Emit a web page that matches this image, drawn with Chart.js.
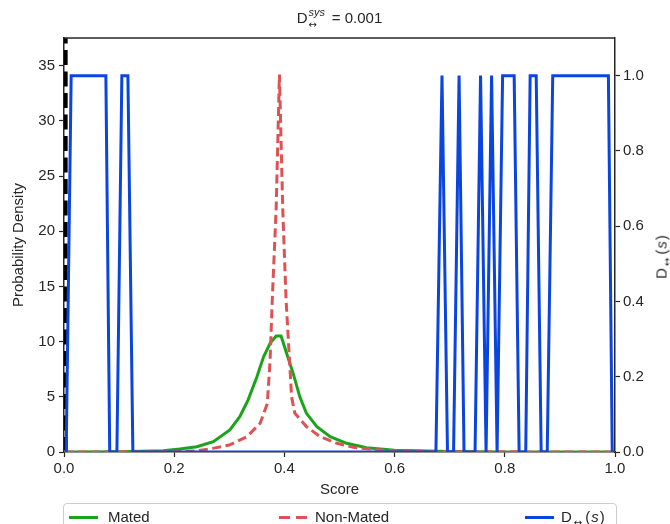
<!DOCTYPE html>
<html lang="en">
<head>
<meta charset="UTF-8">
<title>Score densities and D(s)</title>
<script src="https://cdn.jsdelivr.net/npm/chart.js"></script>
<style>
  body { margin: 0; background: #fff; }
  #wrap { position: relative; width: 670px; height: 524px; overflow: hidden;
          font-family: "Liberation Sans", Arial, sans-serif; color: #262626; }
  #chartCanvas { position: absolute; left: 0; top: 0; }
  #title { position: absolute; left: 64px; width: 551px; top: 9px; text-align: center; font-size: 15px; line-height: 18px; }
  .ss { display: inline-block; position: relative; width: 20px; height: 14px; }
  .ss .up { position: absolute; left: 1px; top: -6px; font-size: 11px; font-style: italic; }
  .ss .dn { position: absolute; left: 1px; top: 7px; font-size: 10px; font-family: "DejaVu Sans", sans-serif; }
  #rightTitle { position: absolute; left: 661px; top: 257px; font-size: 15px; white-space: nowrap; color: #262626;
                transform: translate(-50%, -50%) rotate(-90deg); }
  .arr { font-size: 10px; position: relative; top: 4px; margin: 0 3px 0 2px; font-family: "DejaVu Sans", sans-serif; }
  .ital { font-style: italic; margin: 0 1px; }
  #legend { position: absolute; left: 63px; top: 503px; width: 552px; height: 40px;
            border: 1px solid #cccccc; border-radius: 4px; font-size: 15px; }
  .item { position: absolute; top: 4px; white-space: nowrap; }
  .sw { position: absolute; top: 12px; height: 3px; width: 29px; }
</style>
</head>
<body>
<div id="wrap">
  <canvas id="chartCanvas" width="670" height="524"></canvas>
  <div id="title">D<span class="ss"><span class="up">sys</span><span class="dn">&#8596;</span></span> = 0.001</div>
  <div id="rightTitle">D<span class="arr">&#8596;</span>(<span class="ital">s</span>)</div>
  <div id="legend">
    <div class="sw" style="left:5px; background:#1ca31c;"></div>
    <div class="item" style="left:44px;">Mated</div>
    <div class="sw" style="left:215px; background:repeating-linear-gradient(90deg,#dd5353 0 11px,transparent 11px 17px);"></div>
    <div class="item" style="left:251px;">Non-Mated</div>
    <div class="sw" style="left:461px; background:#0b45e0;"></div>
    <div class="item" style="left:497px;">D<span class="arr">&#8596;</span>(<span class="ital">s</span>)</div>
  </div>
</div>
<script>
// Mated score density
const matedScore   = [0, 0.10, 0.18, 0.21, 0.241, 0.271, 0.301, 0.319, 0.334, 0.350, 0.362, 0.374, 0.385, 0.394, 0.404, 0.416, 0.428, 0.440, 0.459, 0.483, 0.513, 0.549, 0.60, 0.70, 0.80, 1.0];
const matedDensity = [0, 0.03, 0.12, 0.27, 0.48, 0.93, 2.0, 3.2, 4.7, 6.8, 8.6, 9.85, 10.5, 10.5, 8.95, 7.1, 5.0, 3.5, 2.3, 1.39, 0.79, 0.39, 0.15, 0.04, 0.01, 0];

// Non-mated score density
const nonMatedScore   = [0, 0.20, 0.24, 0.27, 0.30, 0.332, 0.356, 0.369, 0.374, 0.378, 0.385, 0.391, 0.397, 0.403, 0.410, 0.413, 0.419, 0.440, 0.465, 0.495, 0.525, 0.561, 0.60, 0.70, 1.0];
const nonMatedDensity = [0, 0.02, 0.10, 0.33, 0.63, 1.39, 2.6, 4.4, 8.3, 13.8, 22, 34.2, 22, 13.8, 7.7, 5.0, 3.5, 2.3, 1.39, 0.79, 0.43, 0.24, 0.10, 0.02, 0];

// D(s) on the right axis
const dScore = [0.004, 0.013, 0.076, 0.083, 0.096, 0.105, 0.116, 0.125, 0.675, 0.686, 0.696, 0.707, 0.717, 0.726, 0.746, 0.756, 0.766, 0.776, 0.786, 0.796, 0.817, 0.826, 0.838, 0.846, 0.857, 0.866, 0.877, 0.887, 0.988, 0.995, 1.0];
const dValue = [0, 1, 1, 0, 0, 1, 1, 0, 0, 1, 0, 0, 1, 0, 0, 1, 0, 1, 0, 1, 1, 0, 0, 1, 1, 0, 0, 1, 1, 0, 0];

// threshold marker
const thrScore = [0.003, 0.003];
const thrDensity = [0, 37.5];

const toPoints = (xs, ys) => xs.map((x, i) => ({ x: x, y: ys[i] }));

const axisColor = '#262626';
const tickFont = { family: '"Liberation Sans", Arial, sans-serif', size: 15 };

// top spine
const frame = {
    id: 'frame',
    afterDraw(chart) {
        const { ctx, chartArea } = chart;
        ctx.save();
        ctx.strokeStyle = axisColor;
        ctx.lineWidth = 1.5;
        ctx.beginPath();
        ctx.moveTo(chartArea.left, chartArea.top);
        ctx.lineTo(chartArea.right, chartArea.top);
        ctx.stroke();
        ctx.restore();
    }
};

const ctx = document.getElementById('chartCanvas').getContext('2d');
new Chart(ctx, {
    type: 'line',
    data: {
        datasets: [
            { label: 'Threshold', data: toPoints(thrScore, thrDensity), borderColor: '#000000', borderWidth: 4, borderDash: [15, 6.5], yAxisID: 'y', order: 4, clip: 0 },
            { label: 'Mated', data: toPoints(matedScore, matedDensity), borderColor: '#1ca31c', borderWidth: 3, yAxisID: 'y', order: 3, clip: 0 },
            { label: 'Non-Mated', data: toPoints(nonMatedScore, nonMatedDensity), borderColor: '#dd5353', borderWidth: 3, borderDash: [9, 4.5], yAxisID: 'y', order: 2, clip: 0 },
            { label: 'D(s)', data: toPoints(dScore, dValue), borderColor: '#0b45e0', borderWidth: 3, yAxisID: 'y1', order: 1, clip: 0 }
        ]
    },
    options: {
        responsive: false,
        animation: false,
        elements: { point: { radius: 0 }, line: { tension: 0, fill: false } },
        plugins: { legend: { display: false }, tooltip: { enabled: false } },
        layout: { padding: { top: 38, left: 0, right: 0, bottom: 25 } },
        scales: {
            x: {
                type: 'linear', min: 0, max: 1,
                ticks: { stepSize: 0.2, padding: 3, color: axisColor, font: tickFont, callback: v => v.toFixed(1) },
                grid: { drawOnChartArea: false, tickLength: 5, tickColor: axisColor, tickWidth: 1.2 },
                border: { color: axisColor, width: 1.5 },
                title: { display: true, text: 'Score', color: axisColor, font: tickFont, padding: { top: 0, bottom: 0 } },
                afterFit(scale) { scale.height = 47; }
            },
            y: {
                position: 'left', min: 0, max: 37.5,
                ticks: { stepSize: 5, includeBounds: false, padding: 4, color: axisColor, font: tickFont },
                grid: { drawOnChartArea: false, tickLength: 5, tickColor: axisColor, tickWidth: 1.2 },
                border: { color: axisColor, width: 1.5 },
                title: { display: true, text: 'Probability Density', color: axisColor, font: tickFont, padding: { top: 10, bottom: 0 } },
                afterFit(scale) { scale.width = 64; }
            },
            y1: {
                position: 'right', min: 0, max: 1.1,
                ticks: { stepSize: 0.2, includeBounds: false, padding: 3, color: axisColor, font: tickFont, callback: v => v.toFixed(1) },
                grid: { drawOnChartArea: false, tickLength: 5, tickColor: axisColor, tickWidth: 1.2 },
                border: { color: axisColor, width: 1.5 },
                afterFit(scale) { scale.width = 55; }
            }
        }
    },
    plugins: [frame]
});
</script>
</body>
</html>
